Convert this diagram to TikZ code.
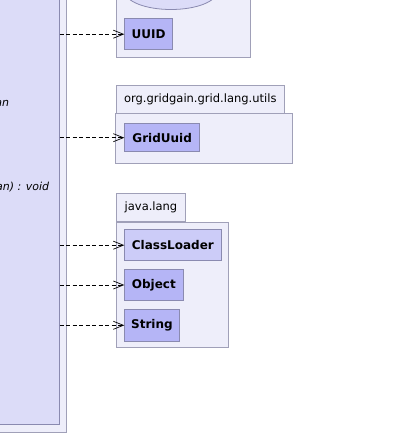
\documentclass[tikz,border=0pt]{standalone}
\usepackage{fontspec}
\setmainfont{DejaVu Sans}
\usepackage{tikz}
\usetikzlibrary{positioning}
\usetikzlibrary{arrows.meta}
\definecolor{pkgfill}{HTML}{EEEEFA}
\definecolor{pkgline}{HTML}{A0A0B8}
\definecolor{clsfill}{HTML}{DCDCF8}
\definecolor{clsmid}{HTML}{CCCCF8}
\definecolor{clsdark}{HTML}{B5B5F6}
\definecolor{clsline}{HTML}{8A8AB0}

\begin{document}
\begin{tikzpicture}[
            x = 1pt, y = -1pt, % pixel grid, y pointing down
            > = {Straight Barb[length=10pt, width=8pt]}, % open arrow head
            node distance = 8pt, % gap between stacked classes
            semithick % line style
        ]

        \tikzstyle{package}=[
            draw = pkgline,
            fill = pkgfill,
            line width = 0.8pt
        ]
        \tikzstyle{tab}=[
            package,
            anchor = north west,
            inner xsep = 8pt,
            minimum height = 28pt,
            font = \fontsize{11.5}{13}\selectfont
        ]
        \tikzstyle{class}=[
            draw = clsline,
            fill = clsdark,
            line width = 0.8pt,
            anchor = north west,
            inner sep = 0pt,
            font = \fontsize{12}{14}\selectfont\bfseries
        ]
        \tikzstyle{method}=[
            inner sep = 0pt,
            anchor = base east,
            font = \fontsize{11}{13}\selectfont\itshape
        ]
        \tikzstyle{dep}=[
            ->,
            black,
            line width = 0.7pt,
            dash pattern = on 4pt off 2.5pt
        ]

        \useasboundingbox (0,0) rectangle (411,434);

	% client class
        \draw[package] (-10,-10) rectangle (66.7,432);
        \node[class, fill=clsfill, minimum width=68.7pt, minimum height=434pt] (client) at (-10,-10) {};
        \node[method] (m1) at (9.5,106.7) {an};
        \node[method] (m2) at (49.5,190) {an) : void};

	% java.util
        \draw[package] (116,-30) rectangle (250,57);
        \draw[draw=clsline, fill=clsfill, line width=0.8pt] (171,-8.5) ellipse [x radius=46, y radius=18];
        \node[class, minimum width=48pt, minimum height=31pt] (UUID) at (124.3,18.3) {UUID};

	% org.gridgain.grid.lang.utils
        \node[tab] (utilstab) at (115.7,85) {org.gridgain.grid.lang.utils};
        \draw[package] (utilstab.south west) rectangle (292.3,163.3);
        \node[class, minimum width=75pt, minimum height=28pt] (GridUuid) at (124.3,123.3) {GridUuid};

	% java.lang
        \node[tab] (langtab) at (116.3,193.3) {java.lang};
        \draw[package] (langtab.south west) rectangle (228.7,347.3);
        \node[class, fill=clsmid, minimum width=96.4pt, minimum height=31pt] (CL) at (124.3,229.3) {ClassLoader};
        \node[class, minimum width=58.4pt, minimum height=31pt] (Obj) [below=of CL.south west, anchor=north west] {Object};
        \node[class, minimum width=54.4pt, minimum height=32pt] (Str) [below=of Obj.south west, anchor=north west] {String};

	% dependencies
        \draw[dep] (client.east |- UUID.west) -- (UUID.west);
        \draw[dep] (client.east |- GridUuid.west) -- (GridUuid.west);
        \draw[dep] (client.east |- CL.west) -- (CL.west);
        \draw[dep] (client.east |- Obj.west) -- (Obj.west);
        \draw[dep] (client.east |- Str.west) -- (Str.west);

  \end{tikzpicture}
\end{document}
